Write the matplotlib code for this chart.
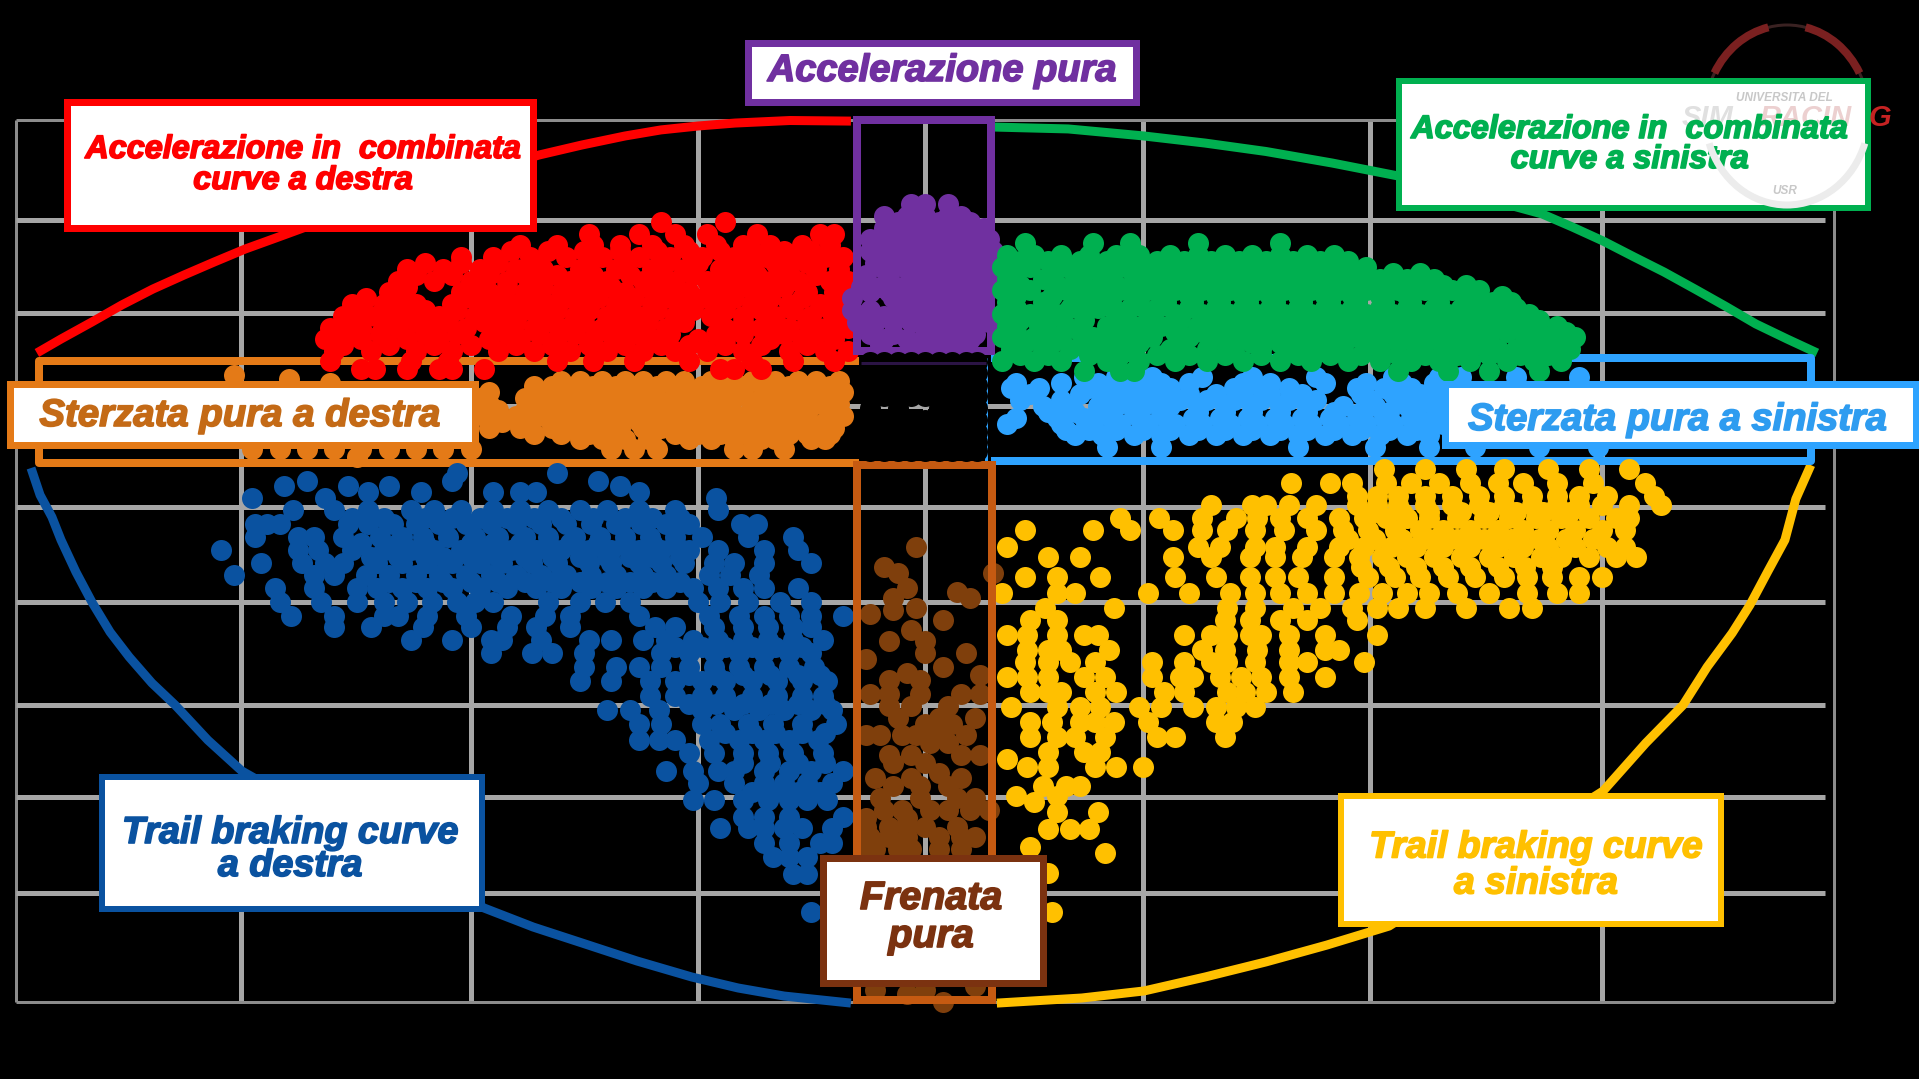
#!/usr/bin/env python3

import matplotlib
matplotlib.use("Agg")
import matplotlib.pyplot as plt
import matplotlib.patheffects as pe
from matplotlib.patches import Rectangle, Arc
from matplotlib.transforms import IdentityTransform

W, H = 1919, 1079

# grid lines (g)
grid_x = [-2.00, -1.505, -1.00, -0.50, 0.0, 0.48, 0.98, 1.49, 2.00]
grid_y = [1.48, 0.97, 0.495, 0.02, -0.495, -0.98, -1.505, -1.975, -2.465, -3.02]

# envelope arcs (x, y in g)
red_arc_x = [-1.954, -1.901, -1.833, -1.767, -1.699, -1.63, -1.564, -1.496, -1.428, -1.362, -1.111, -0.849, -0.755, -0.66, -0.581, -0.499, -0.418, -0.297, -0.163]
red_arc_y = [0.291, 0.362, 0.449, 0.536, 0.617, 0.689, 0.755, 0.821, 0.878, 0.934, 1.122, 1.301, 1.352, 1.398, 1.429, 1.449, 1.464, 1.477, 1.474]
green_arc_x = [0.145, 0.315, 0.482, 0.616, 0.75, 0.896, 1.041, 1.2, 1.358, 1.424, 1.492, 1.56, 1.626, 1.694, 1.76, 1.828, 1.897, 1.963]
green_arc_y = [1.444, 1.434, 1.398, 1.362, 1.319, 1.26, 1.194, 1.10, 1.0, 0.934, 0.862, 0.781, 0.704, 0.617, 0.531, 0.439, 0.362, 0.291]
blue_arc_x = [-1.967, -1.947, -1.921, -1.901, -1.868, -1.833, -1.793, -1.751, -1.701, -1.65, -1.578, -1.503, -0.97, -0.862, -0.755, -0.634, -0.513, -0.411, -0.31, -0.163]
blue_arc_y = [-0.296, -0.434, -0.546, -0.663, -0.827, -0.98, -1.133, -1.26, -1.393, -1.505, -1.684, -1.842, -2.541, -2.638, -2.719, -2.811, -2.893, -2.949, -2.99, -3.026]
yellow_arc_x = [1.949, 1.916, 1.892, 1.855, 1.815, 1.776, 1.721, 1.668, 1.586, 1.492, 1.021, 0.884, 0.75, 0.616, 0.482, 0.345, 0.158]
yellow_arc_y = [-0.281, -0.454, -0.663, -0.821, -0.995, -1.138, -1.311, -1.505, -1.699, -1.944, -2.633, -2.73, -2.816, -2.893, -2.964, -3.0, -3.026]

# points, one (long. g, [lat. g...]) per row
red_rows = [
    (0.96, [-0.58, -0.44]),
    (0.90, [-0.74, -0.63, -0.55, -0.48, -0.37, -0.23, -0.20]),
    (0.84, [-0.89, -0.81, -0.73, -0.67, -0.60, -0.53, -0.46, -0.40, -0.34, -0.27, -0.21]),
    (0.81, [-0.91, -0.83, -0.75, -0.67, -0.59, -0.52, -0.45, -0.38, -0.31, -0.25]),
    (0.78, [-1.02, -0.95, -0.87, -0.79, -0.71, -0.63, -0.56, -0.49, -0.42, -0.35, -0.29, -0.22, -0.18]),
    (0.75, [-1.10, -1.02, -0.94, -0.86, -0.74, -0.66, -0.57, -0.50, -0.41, -0.33, -0.26]),
    (0.72, [-1.14, -1.06, -0.98, -0.90, -0.84, -0.76, -0.68, -0.60, -0.53, -0.45, -0.38, -0.30, -0.24, -0.19]),
    (0.69, [-1.12, -1.04, -0.96, -0.88, -0.81, -0.73, -0.65, -0.58, -0.51, -0.44, -0.37, -0.31, -0.24]),
    (0.66, [-1.16, -1.08, -1.00, -0.92, -0.85, -0.78, -0.70, -0.62, -0.55, -0.48, -0.41, -0.34, -0.28, -0.21, -0.17]),
    (0.63, [-1.14, -0.98, -0.92, -0.84, -0.76, -0.69, -0.61, -0.55, -0.47, -0.39, -0.31]),
    (0.60, [-1.18, -1.02, -0.96, -0.88, -0.80, -0.73, -0.66, -0.58, -0.52, -0.44, -0.36, -0.26, -0.20]),
    (0.57, [-1.23, -1.15, -1.00, -0.93, -0.86, -0.79, -0.72, -0.64, -0.56, -0.49, -0.42, -0.34, -0.27]),
    (0.54, [-1.26, -1.19, -1.12, -1.04, -0.97, -0.90, -0.83, -0.76, -0.68, -0.60, -0.53, -0.46, -0.38, -0.30, -0.23, -0.18]),
    (0.51, [-1.24, -1.17, -1.10, -1.03, -0.95, -0.88, -0.81, -0.74, -0.66, -0.59, -0.51, -0.44, -0.36, -0.29, -0.21]),
    (0.48, [-1.28, -1.21, -1.14, -1.07, -0.99, -0.92, -0.85, -0.77, -0.70, -0.63, -0.55, -0.47, -0.40, -0.33, -0.25, -0.19]),
    (0.45, [-1.27, -1.19, -1.12, -1.05, -0.97, -0.90, -0.82, -0.75, -0.68, -0.61, -0.53, -0.40, -0.33, -0.26, -0.20]),
    (0.42, [-1.31, -1.24, -1.16, -1.09, -1.01, -0.94, -0.86, -0.79, -0.71, -0.65, -0.57, -0.44, -0.36, -0.30, -0.22, -0.17]),
    (0.39, [-1.28, -1.20, -1.10, -1.03, -0.92, -0.85, -0.77, -0.69, -0.63, -0.56, -0.46, -0.40, -0.31, -0.24]),
    (0.36, [-1.32, -1.24, -1.14, -1.07, -0.96, -0.89, -0.81, -0.73, -0.67, -0.60, -0.50, -0.44, -0.34, -0.27, -0.20]),
    (0.33, [-1.28, -1.18, -1.08, -1.00, -0.90, -0.82, -0.74, -0.66, -0.58, -0.52, -0.44, -0.36, -0.26]),
    (0.30, [-1.30, -1.22, -1.12, -1.04, -0.94, -0.86, -0.78, -0.70, -0.62, -0.55, -0.48, -0.40, -0.30, -0.22, -0.17]),
    (0.25, [-1.31, -1.13, -1.05, -0.81, -0.73, -0.64, -0.52, -0.38, -0.29, -0.20]),
    (0.21, [-1.24, -1.21, -1.14, -1.07, -1.04, -0.97, -0.45, -0.42, -0.36]),
]
orange_rows = [
    (0.18, [-1.52]),
    (0.16, [-1.40]),
    (0.14, [-1.31]),
    (0.15, [-0.80, -0.76, -0.71, -0.66, -0.62, -0.57, -0.53, -0.47, -0.42, -0.38, -0.33, -0.28, -0.24, -0.19]),
    (0.12, [-0.86, -0.82, -0.77, -0.73, -0.68, -0.64, -0.59, -0.55, -0.49, -0.44, -0.40, -0.35, -0.30, -0.26, -0.21]),
    (0.09, [-0.96, -0.84, -0.79, -0.74, -0.69, -0.64, -0.60, -0.55, -0.50, -0.45, -0.40, -0.35, -0.31, -0.26, -0.21, -0.18]),
    (0.06, [-0.98, -0.88, -0.83, -0.78, -0.72, -0.66, -0.59, -0.53, -0.48, -0.42, -0.36, -0.29, -0.23]),
    (0.03, [-0.96, -0.86, -0.81, -0.76, -0.71, -0.67, -0.62, -0.57, -0.52, -0.47, -0.43, -0.38, -0.33, -0.28, -0.24, -0.19]),
    (0.0, [-0.94, -0.88, -0.83, -0.77, -0.72, -0.64, -0.58, -0.54, -0.49, -0.44, -0.37, -0.31, -0.26, -0.20]),
    (-0.03, [-0.97, -0.90, -0.84, -0.79, -0.74, -0.69, -0.65, -0.60, -0.55, -0.50, -0.45, -0.40, -0.36, -0.31, -0.26, -0.21, -0.18]),
    (-0.06, [-0.93, -0.87, -0.81, -0.76, -0.70, -0.63, -0.57, -0.52, -0.47, -0.41, -0.34, -0.28, -0.22]),
    (-0.09, [-0.96, -0.89, -0.82, -0.77, -0.72, -0.67, -0.62, -0.58, -0.53, -0.48, -0.43, -0.38, -0.33, -0.29, -0.24, -0.20]),
    (-0.12, [-0.86, -0.80, -0.74, -0.68, -0.60, -0.55, -0.50, -0.45, -0.40, -0.35, -0.30, -0.26, -0.21]),
    (-0.15, [-0.76, -0.71, -0.66, -0.61, -0.52, -0.47, -0.42, -0.36, -0.33, -0.25, -0.22]),
    (-0.20, [-1.48, -1.42, -1.36, -1.30, -1.24, -1.18, -1.12, -1.06, -1.00, -0.69, -0.64, -0.59, -0.42, -0.38, -0.31]),
    (-0.24, [-1.25]),
]
green_rows = [
    (0.85, [0.22, 0.37, 0.45, 0.60, 0.78]),
    (0.79, [0.18, 0.24, 0.30, 0.36, 0.42, 0.47, 0.54, 0.60, 0.66, 0.72, 0.78, 0.84, 0.90]),
    (0.76, [0.21, 0.27, 0.34, 0.40, 0.45, 0.51, 0.57, 0.63, 0.69, 0.75, 0.81, 0.87, 0.93]),
    (0.73, [0.17, 0.23, 0.31, 0.38, 0.44, 0.50, 0.56, 0.62, 0.68, 0.74, 0.80, 0.86, 0.92, 0.97]),
    (0.70, [0.20, 0.28, 0.35, 0.41, 0.48, 0.53, 0.59, 0.65, 0.71, 0.77, 0.83, 0.89, 0.95, 1.03, 1.09]),
    (0.67, [0.18, 0.26, 0.33, 0.39, 0.46, 0.52, 0.58, 0.64, 0.70, 0.76, 0.82, 0.88, 0.94, 1.00, 1.06, 1.12]),
    (0.64, [0.21, 0.29, 0.35, 0.42, 0.49, 0.55, 0.61, 0.67, 0.73, 0.79, 0.85, 0.91, 0.97, 1.02, 1.08, 1.14, 1.19]),
    (0.61, [0.17, 0.23, 0.31, 0.37, 0.43, 0.49, 0.55, 0.61, 0.67, 0.73, 0.79, 0.85, 0.91, 0.97, 1.04, 1.10, 1.16, 1.22]),
    (0.58, [0.20, 0.28, 0.35, 0.40, 0.46, 0.52, 0.58, 0.64, 0.70, 0.76, 0.82, 0.88, 0.94, 1.00, 1.06, 1.13, 1.22, 1.27]),
    (0.55, [0.18, 0.26, 0.33, 0.41, 0.47, 0.53, 0.59, 0.65, 0.71, 0.77, 0.83, 0.89, 0.95, 1.01, 1.07, 1.13, 1.19, 1.25, 1.29]),
    (0.52, [0.20, 0.26, 0.32, 0.38, 0.45, 0.51, 0.58, 0.64, 0.70, 0.76, 0.82, 0.88, 0.94, 1.00, 1.06, 1.12, 1.18, 1.24, 1.30]),
    (0.49, [0.17, 0.23, 0.29, 0.35, 0.42, 0.49, 0.55, 0.61, 0.67, 0.73, 0.79, 0.85, 0.91, 0.97, 1.03, 1.09, 1.15, 1.21, 1.27, 1.33]),
    (0.46, [0.21, 0.27, 0.35, 0.43, 0.49, 0.56, 0.63, 0.69, 0.75, 0.81, 0.87, 0.93, 0.99, 1.05, 1.11, 1.17, 1.23, 1.29, 1.35]),
    (0.43, [0.18, 0.25, 0.31, 0.40, 0.46, 0.52, 0.60, 0.66, 0.72, 0.78, 0.84, 0.90, 0.96, 1.02, 1.08, 1.14, 1.20, 1.26, 1.32, 1.39]),
    (0.40, [0.20, 0.27, 0.34, 0.41, 0.47, 0.55, 0.61, 0.67, 0.73, 0.79, 0.85, 0.91, 0.97, 1.03, 1.09, 1.15, 1.21, 1.28, 1.35, 1.41]),
    (0.37, [0.17, 0.24, 0.30, 0.37, 0.44, 0.50, 0.58, 0.64, 0.70, 0.76, 0.82, 0.88, 0.94, 1.00, 1.06, 1.12, 1.18, 1.24, 1.32, 1.38, 1.43]),
    (0.34, [0.22, 0.28, 0.35, 0.41, 0.47, 0.56, 0.66, 0.72, 0.78, 0.84, 0.90, 0.97, 1.04, 1.10, 1.16, 1.23, 1.33, 1.39]),
    (0.31, [0.19, 0.26, 0.32, 0.38, 0.46, 0.54, 0.62, 0.68, 0.74, 0.80, 0.86, 0.92, 1.00, 1.08, 1.14, 1.20, 1.26, 1.30, 1.36, 1.42]),
    (0.28, [0.21, 0.27, 0.36, 0.43, 0.51, 0.58, 0.66, 0.74, 0.82, 0.89, 0.96, 1.04, 1.10, 1.17, 1.24, 1.31, 1.37]),
    (0.25, [0.17, 0.24, 0.30, 0.40, 0.47, 0.55, 0.62, 0.70, 0.78, 0.85, 0.93, 1.00, 1.07, 1.13, 1.20, 1.28, 1.34, 1.40]),
    (0.20, [0.35, 0.43, 0.46, 1.04, 1.15, 1.24, 1.35]),
]
sky_rows = [
    (0.17, [0.35, 0.42, 0.50, 0.61, 0.72, 0.86, 1.03, 1.13, 1.18, 1.30, 1.44]),
    (0.14, [0.20, 0.30, 0.38, 0.46, 0.52, 0.58, 0.70, 0.76, 0.88, 0.97, 1.05, 1.12]),
    (0.11, [0.19, 0.25, 0.36, 0.42, 0.48, 0.54, 0.68, 0.74, 0.80, 0.95, 1.01, 1.07, 1.13]),
    (0.08, [0.23, 0.34, 0.40, 0.46, 0.52, 0.58, 0.64, 0.70, 0.76, 0.83, 0.96, 1.03, 1.09, 1.15]),
    (0.05, [0.21, 0.30, 0.39, 0.44, 0.50, 0.56, 0.62, 0.68, 0.74, 0.80, 0.86, 0.98, 1.04, 1.10, 1.17]),
    (0.02, [0.26, 0.32, 0.38, 0.42, 0.48, 0.54, 0.60, 0.66, 0.72, 0.78, 0.84, 0.92, 0.99, 1.06, 1.12]),
    (-0.01, [0.27, 0.33, 0.40, 0.46, 0.52, 0.60, 0.66, 0.72, 0.78, 0.84, 0.90, 0.96, 1.02, 1.08, 1.13]),
    (-0.04, [0.20, 0.29, 0.35, 0.41, 0.47, 0.53, 0.59, 0.65, 0.71, 0.77, 0.83, 0.89, 0.95, 1.01, 1.07, 1.12]),
    (-0.07, [0.18, 0.30, 0.37, 0.43, 0.49, 0.55, 0.61, 0.67, 0.73, 0.79, 0.85, 0.91, 0.97, 1.03, 1.09, 1.14]),
    (-0.10, [0.31, 0.36, 0.42, 0.48, 0.54, 0.60, 0.66, 0.72, 0.78, 0.84, 0.90, 0.96, 1.02, 1.08]),
    (-0.13, [0.33, 0.39, 0.46, 0.52, 0.58, 0.64, 0.70, 0.76, 0.82, 0.88, 0.94, 1.00, 1.06, 1.11]),
    (-0.19, [0.40, 0.52, 0.82, 0.99, 1.11, 1.21, 1.35, 1.48]),
]
blue_rows = [
    (-0.32, [-1.03, -0.81]),
    (-0.36, [-1.36, -1.04, -0.72]),
    (-0.39, [-1.41, -1.27, -1.18, -0.67]),
    (-0.42, [-1.225, -1.11, -0.95, -0.89, -0.855, -0.63]),
    (-0.45, [-1.48, -1.32, -0.46]),
    (-0.51, [-1.39, -1.30, -1.225, -1.13, -1.08, -1.02, -0.95, -0.89, -0.83, -0.76, -0.70, -0.63, -0.55, -0.455]),
    (-0.55, [-1.26, -1.19, -1.10, -1.04, -0.98, -0.92, -0.86, -0.80, -0.73, -0.66, -0.60, -0.54]),
    (-0.58, [-1.475, -1.447, -1.42, -1.27, -1.225, -1.17, -1.12, -1.07, -1.01, -0.955, -0.90, -0.845, -0.79, -0.735, -0.68, -0.625, -0.57, -0.52, -0.405, -0.37]),
    (-0.65, [-1.475, -1.38, -1.345, -1.28, -1.20, -1.15, -1.105, -1.05, -0.99, -0.94, -0.88, -0.83, -0.77, -0.715, -0.66, -0.605, -0.55, -0.49, -0.39, -0.29]),
    (-0.68, [-1.24, -1.16, -1.10, -1.00, -0.95, -0.89, -0.83, -0.78, -0.72, -0.66, -0.60, -0.55]),
    (-0.715, [-1.55, -1.38, -1.335, -1.26, -1.19, -1.13, -1.08, -1.02, -0.965, -0.91, -0.855, -0.80, -0.74, -0.69, -0.63, -0.58, -0.52, -0.455, -0.355, -0.28]),
    (-0.75, [-1.22, -1.16, -1.10, -1.06, -1.00, -0.94, -0.88, -0.82, -0.76, -0.70, -0.65, -0.60, -0.54]),
    (-0.78, [-1.46, -1.37, -1.32, -1.28, -1.205, -1.15, -1.095, -1.04, -0.98, -0.93, -0.865, -0.81, -0.74, -0.69, -0.63, -0.58, -0.53, -0.465, -0.42, -0.355, -0.25]),
    (-0.84, [-1.52, -1.345, -1.30, -1.23, -1.18, -1.12, -1.07, -1.01, -0.955, -0.90, -0.845, -0.79, -0.735, -0.68, -0.62, -0.57, -0.475, -0.43, -0.365]),
    (-0.88, [-1.18, -1.12, -1.06, -1.00, -0.94, -0.88, -0.82, -0.76, -0.70, -0.65, -0.60, -0.54]),
    (-0.91, [-1.43, -1.345, -1.25, -1.205, -1.15, -1.095, -1.04, -0.98, -0.92, -0.855, -0.80, -0.735, -0.68, -0.62, -0.57, -0.51, -0.455, -0.40, -0.355, -0.28]),
    (-0.98, [-1.42, -1.33, -1.25, -1.19, -1.14, -1.085, -1.03, -0.99, -0.95, -0.83, -0.76, -0.705, -0.65, -0.50, -0.45, -0.39, -0.32, -0.25]),
    (-1.05, [-1.396, -1.30, -1.19, -1.16, -1.095, -1.01, -0.91, -0.835, -0.78, -0.63, -0.475, -0.41, -0.355, -0.30, -0.25, -0.18]),
    (-1.105, [-1.30, -1.22, -1.105, -1.00, -0.92, -0.855, -0.78, -0.595, -0.55, -0.465, -0.40, -0.345, -0.29, -0.25]),
    (-1.175, [-1.13, -1.04, -0.955, -0.93, -0.845, -0.74, -0.69, -0.62, -0.57, -0.51, -0.455, -0.40, -0.345, -0.29, -0.225]),
    (-1.21, [-0.55, -0.49, -0.44, -0.38, -0.33, -0.27]),
    (-1.24, [-0.955, -0.865, -0.82, -0.75, -0.58, -0.52, -0.465, -0.41, -0.355, -0.30, -0.25]),
    (-1.31, [-0.75, -0.68, -0.63, -0.58, -0.52, -0.465, -0.41, -0.355, -0.30, -0.245]),
    (-1.35, [-0.52, -0.46, -0.40, -0.34, -0.28, -0.23]),
    (-1.385, [-0.76, -0.69, -0.605, -0.55, -0.49, -0.44, -0.38, -0.325, -0.27, -0.215]),
    (-1.46, [-0.605, -0.55, -0.49, -0.44, -0.38, -0.325, -0.27, -0.225]),
    (-1.50, [-0.52, -0.46, -0.40, -0.34, -0.28, -0.22]),
    (-1.53, [-0.70, -0.65, -0.585, -0.49, -0.42, -0.365, -0.31, -0.25, -0.205]),
    (-1.60, [-0.63, -0.58, -0.49, -0.45, -0.39, -0.335, -0.27, -0.195]),
    (-1.65, [-0.44, -0.38, -0.33, -0.27, -0.22]),
    (-1.685, [-0.63, -0.585, -0.55, -0.475, -0.41, -0.355, -0.30, -0.235]),
    (-1.75, [-0.52, -0.465, -0.40, -0.345, -0.29, -0.225]),
    (-1.80, [-0.40, -0.34, -0.28, -0.22]),
    (-1.84, [-0.57, -0.51, -0.455, -0.42, -0.355, -0.30, -0.25, -0.18]),
    (-1.905, [-0.50, -0.42, -0.355, -0.31, -0.26, -0.205]),
    (-1.95, [-0.38, -0.33, -0.28, -0.23]),
    (-1.99, [-0.51, -0.465, -0.40, -0.345, -0.30, -0.26, -0.215]),
    (-2.075, [-0.40, -0.355, -0.30, -0.18]),
    (-2.135, [-0.45, -0.39, -0.355, -0.31, -0.27, -0.205]),
    (-2.21, [-0.355, -0.30, -0.23, -0.205]),
    (-2.28, [-0.335, -0.30, -0.26]),
    (-2.365, [-0.29, -0.26]),
    (-2.56, [-0.25]),
]
yellow_rows = [
    (-0.30, [1.01, 1.10, 1.19, 1.275, 1.37, 1.46, 1.55]),
    (-0.374, [0.805, 0.89, 0.94, 1.015, 1.07, 1.13, 1.20, 1.26, 1.315, 1.39, 1.47, 1.585]),
    (-0.44, [0.95, 0.995, 1.04, 1.10, 1.16, 1.22, 1.275, 1.335, 1.39, 1.44, 1.50, 1.605]),
    (-0.485, [0.63, 0.72, 0.75, 0.80, 0.86, 0.95, 0.995, 1.04, 1.10, 1.16, 1.22, 1.275, 1.335, 1.39, 1.44, 1.49, 1.55, 1.62]),
    (-0.52, [0.99, 1.05, 1.11, 1.18, 1.24, 1.30, 1.36, 1.42]),
    (-0.553, [0.43, 0.515, 0.61, 0.685, 0.73, 0.78, 0.84, 0.91, 0.965, 1.015, 1.06, 1.11, 1.17, 1.23, 1.285, 1.345, 1.40, 1.46, 1.52, 1.55]),
    (-0.612, [0.22, 0.37, 0.45, 0.545, 0.61, 0.665, 0.725, 0.79, 0.86, 0.92, 0.975, 1.035, 1.09, 1.14, 1.20, 1.26, 1.315, 1.37, 1.43, 1.49, 1.54]),
    (-0.66, [0.93, 0.99, 1.05, 1.11, 1.17, 1.23, 1.29, 1.35, 1.41, 1.47]),
    (-0.70, [0.18, 0.60, 0.65, 0.725, 0.77, 0.84, 0.91, 0.965, 1.025, 1.08, 1.14, 1.20, 1.26, 1.315, 1.37, 1.43, 1.50, 1.54]),
    (-0.75, [0.34, 0.27, 0.545, 0.63, 0.715, 0.77, 0.83, 0.90, 0.955, 1.005, 1.06, 1.12, 1.18, 1.24, 1.295, 1.355, 1.40, 1.46, 1.52, 1.565]),
    (-0.80, [0.96, 1.02, 1.08, 1.14, 1.20, 1.26, 1.32, 1.38]),
    (-0.85, [0.22, 0.29, 0.385, 0.55, 0.64, 0.715, 0.77, 0.82, 0.90, 0.975, 1.035, 1.09, 1.15, 1.21, 1.275, 1.325, 1.38, 1.44, 1.49]),
    (-0.935, [0.17, 0.29, 0.33, 0.49, 0.58, 0.67, 0.725, 0.78, 0.84, 0.90, 0.955, 1.005, 1.06, 1.11, 1.17, 1.24, 1.325, 1.39, 1.44]),
    (-1.01, [0.265, 0.415, 0.665, 0.725, 0.81, 0.87, 0.94, 0.995, 1.04, 1.10, 1.19, 1.285, 1.335]),
    (-1.07, [0.23, 0.29, 0.66, 0.715, 0.78, 0.84, 0.95]),
    (-1.15, [0.18, 0.225, 0.29, 0.35, 0.38, 0.57, 0.63, 0.665, 0.715, 0.74, 0.80, 0.88, 0.995]),
    (-1.225, [0.225, 0.27, 0.30, 0.405, 0.61, 0.66, 0.73, 0.80, 0.88, 0.91]),
    (-1.285, [0.22, 0.27, 0.32, 0.375, 0.50, 0.57, 0.63, 0.665, 0.725, 0.80, 0.84, 0.965]),
    (-1.36, [0.18, 0.225, 0.27, 0.35, 0.395, 0.50, 0.56, 0.59, 0.65, 0.695, 0.74, 0.80, 0.88]),
    (-1.44, [0.23, 0.27, 0.30, 0.375, 0.42, 0.525, 0.57, 0.665, 0.705, 0.75, 0.81]),
    (-1.515, [0.19, 0.29, 0.34, 0.385, 0.47, 0.52, 0.59, 0.64, 0.685, 0.725]),
    (-1.59, [0.23, 0.28, 0.34, 0.375, 0.415, 0.49, 0.64, 0.675]),
    (-1.67, [0.23, 0.29, 0.33, 0.395, 0.51, 0.55, 0.66]),
    (-1.745, [0.27, 0.35, 0.385]),
    (-1.78, [0.18]),
    (-1.82, [0.225, 0.27, 0.375, 0.42, 0.48]),
    (-1.92, [0.26, 0.31, 0.34]),
    (-1.97, [0.20, 0.29]),
    (-2.00, [0.24]),
    (-2.05, [0.29, 0.38]),
    (-2.14, [0.27, 0.32, 0.36]),
    (-2.23, [0.23]),
    (-2.26, [0.395]),
    (-2.36, [0.27]),
    (-2.56, [0.28]),
]
purple_rows = [
    (1.05, [-0.03, 0.0, 0.05]),
    (0.99, [-0.09, -0.04, 0.0, 0.05, 0.08]),
    (0.96, [-0.06, -0.02, 0.03, 0.10]),
    (0.93, [-0.09, -0.05, -0.01, 0.03, 0.07, 0.13]),
    (0.87, [-0.12, -0.07, -0.03, 0.01, 0.05, 0.10, 0.14]),
    (0.84, [-0.10, -0.05, -0.01, 0.03, 0.07, 0.12]),
    (0.81, [-0.12, -0.08, -0.04, 0.0, 0.04, 0.08, 0.12, 0.15]),
    (0.75, [-0.11, -0.06, -0.02, 0.02, 0.06, 0.10, 0.14]),
    (0.72, [-0.09, -0.04, 0.0, 0.04, 0.08, 0.12]),
    (0.69, [-0.13, -0.08, -0.03, 0.01, 0.05, 0.09, 0.13, 0.16]),
    (0.63, [-0.14, -0.10, -0.05, -0.01, 0.03, 0.07, 0.11, 0.15]),
    (0.60, [-0.12, -0.08, 0.0, 0.04, 0.08, 0.12]),
    (0.57, [-0.16, -0.07, -0.03, 0.01, 0.05, 0.09, 0.13]),
    (0.51, [-0.16, -0.12, -0.06, -0.02, 0.02, 0.06, 0.10, 0.13]),
    (0.48, [-0.13, -0.09, -0.04, 0.0, 0.04, 0.08, 0.12]),
    (0.45, [-0.15, -0.11, -0.07, -0.03, 0.01, 0.05, 0.09, 0.14]),
    (0.39, [-0.12, -0.07, 0.0, 0.04, 0.08, 0.11]),
    (0.36, [-0.09, -0.04, 0.02, 0.06, 0.10]),
    (0.33, [-0.10, -0.03, 0.01, 0.05, 0.08]),
]
brown_rows = [
    (-0.70, [-0.02]),
    (-0.80, [-0.09]),
    (-0.83, [-0.06, 0.15]),
    (-0.91, [-0.04]),
    (-0.93, [0.07]),
    (-0.96, [0.10, -0.07]),
    (-1.01, [-0.02]),
    (-1.02, [-0.07]),
    (-1.04, [-0.12]),
    (-1.07, [0.04]),
    (-1.12, [-0.03]),
    (-1.18, [-0.08, 0.0]),
    (-1.24, [0.0, 0.09]),
    (-1.27, [-0.13]),
    (-1.31, [0.04]),
    (-1.34, [-0.04]),
    (-1.35, [0.12]),
    (-1.38, [-0.01, -0.08]),
    (-1.45, [-0.12, -0.01, -0.08, 0.08, 0.12]),
    (-1.51, [0.05, -0.08, -0.03]),
    (-1.57, [0.03, 0.11, -0.06]),
    (-1.60, [0.0, 0.06]),
    (-1.66, [-0.13, -0.10, -0.05, -0.02, 0.03, 0.09]),
    (-1.70, [0.05, 0.01]),
    (-1.76, [-0.08, -0.03, 0.08, 0.12]),
    (-1.80, [-0.07, 0.0]),
    (-1.85, [0.03]),
    (-1.88, [-0.11, -0.03, 0.08]),
    (-1.92, [-0.07, -0.01, 0.05]),
    (-1.98, [-0.10, -0.01, 0.07, 0.11]),
    (-2.04, [-0.09, -0.05, 0.01, 0.05, 0.10, 0.14]),
    (-2.08, [-0.13, -0.04]),
    (-2.13, [0.07, -0.13, -0.08, -0.04, 0.0]),
    (-2.18, [-0.12, -0.08, -0.04, 0.03, 0.08, 0.11]),
    (-2.24, [-0.13, -0.11, -0.06, -0.03, 0.03, 0.08]),
    (-2.94, [0.11]),
    (-2.96, [-0.11, 0.0]),
    (-2.98, [-0.04]),
    (-3.02, [0.04]),
]
black_rows = [
    (0.245, [-0.12, -0.09, -0.06, -0.03, 0.0, 0.03, 0.06, 0.09, 0.115]),
    (0.19, [-0.12, -0.09, -0.06, -0.03, 0.0, 0.03, 0.06, 0.09, 0.115]),
    (0.13, [-0.12, -0.09, -0.06, -0.03, 0.0, 0.03, 0.06, 0.09, 0.115]),
    (0.07, [-0.12, -0.09, -0.06, -0.03, 0.0, 0.03, 0.06, 0.09, 0.115]),
    (0.01, [-0.12, -0.06, 0.03, 0.06, 0.09, 0.115]),
    (-0.05, [-0.12, -0.09, -0.06, -0.03, 0.0, 0.03, 0.06, 0.09, 0.115]),
    (-0.11, [-0.12, -0.09, -0.06, -0.03, 0.0, 0.03, 0.06, 0.09, 0.115]),
    (-0.165, [-0.12, -0.09, -0.06, -0.03, 0.03, 0.06, 0.09, 0.115]),
    (-0.21, [-0.12, -0.09, -0.06, -0.03, 0.0, 0.03, 0.06, 0.09, 0.115]),
]

# region outlines (g)
orange_box = (-1.95, -0.155, 0.25, -0.27)
sky_box = (0.134, 1.949, 0.265, -0.26)
purple_box = (-0.15, 0.145, 1.48, 0.30)
brown_box = (-0.15, 0.147, -0.28, -3.01)

RED = "#ff0000"
GREEN = "#00b050"
PURPLE = "#7030a0"
ORANGE = "#e47a17"
SKY = "#2ea3ff"
BLUE = "#0a52a0"
YELLOW = "#ffc000"
BROWN = "#7f3f0c"
BROWN_LINE = "#c55a11"
GREY = "#a6a6a6"
DOT = 21  # px


def expand(rows):
    xs, ys = [], []
    for y, row in rows:
        xs += row
        ys += [y] * len(row)
    return xs, ys


def px(v):
    return v * 0.72


fig = plt.figure(figsize=(W / 100, H / 100), dpi=100, facecolor="black")
ax = fig.add_axes([0, 0, 1, 1], facecolor="black")
ax.set_xlim(-925 / 454.5, (W - 925) / 454.5)
ax.set_ylim((410 - H) / 196, 410 / 196)
ax.axis("off")

# grid
for i, x in enumerate(grid_x):
    thin = i in (0, len(grid_x) - 1)
    ax.vlines(x, grid_y[-1], grid_y[0], color="#8c8c8c" if thin else GREY, lw=px(3 if thin else 5), zorder=1)
for i, y in enumerate(grid_y):
    thin = i in (0, len(grid_y) - 1)
    ax.hlines(y, grid_x[0], grid_x[-1] - (0 if thin else 0.02), color="#8c8c8c" if thin else GREY, lw=px(3 if thin else 5), zorder=1)

# envelope
for xs, ys, col in [(red_arc_x, red_arc_y, RED), (green_arc_x, green_arc_y, GREEN),
                    (blue_arc_x, blue_arc_y, BLUE), (yellow_arc_x, yellow_arc_y, YELLOW)]:
    ax.plot(xs, ys, color=col, lw=px(9), zorder=2, solid_capstyle="butt", solid_joinstyle="round")


def points(rows, col, z):
    xs, ys = expand(rows)
    ax.scatter(xs, ys, s=px(DOT) ** 2, color=col, linewidths=0, zorder=z)


def box(b, col, z, w=8):
    x0, x1, y0, y1 = b
    ax.plot([x0, x1, x1, x0, x0], [y0, y0, y1, y1, y0], color=col, lw=px(w), zorder=z, solid_joinstyle="miter")


points(orange_rows, ORANGE, 3)
ax.plot([orange_box[1], orange_box[0], orange_box[0], orange_box[1]],
        [orange_box[2], orange_box[2], orange_box[3], orange_box[3]], color=ORANGE, lw=px(8), zorder=4)
points(sky_rows, SKY, 3)
ax.plot([sky_box[0] + 0.02, sky_box[1], sky_box[1], sky_box[0] + 0.02],
        [sky_box[2], sky_box[2], sky_box[3], sky_box[3]], color=SKY, lw=px(8), zorder=4)
ax.vlines(sky_box[0], sky_box[3], sky_box[2], color=SKY, lw=px(3), zorder=4)
points(blue_rows, BLUE, 5)
points(yellow_rows, YELLOW, 5)
points(brown_rows, BROWN, 5)
box(brown_box, BROWN_LINE, 6)
points(red_rows, RED, 7)
box(purple_box, PURPLE, 7)
points(purple_rows, PURPLE, 8)
points(black_rows, "black", 9)
ax.hlines(0.24, purple_box[0] + 0.01, purple_box[1] - 0.01, color="#2b1445", lw=px(3), zorder=10)
points(green_rows, GREEN, 10)


def fx(x):
    return x / W


def fy(y):
    return 1 - y / H


def label(lines, cx, ys, width, col, rect, edge, bw):
    x0, y0, x1, y1 = rect
    hw = bw / 2
    fig.add_artist(Rectangle((fx(x0 + hw), fy(y1 - hw)), (x1 - x0 - bw) / W, (y1 - y0 - bw) / H,
                             transform=fig.transFigure, facecolor="white", edgecolor=edge,
                             linewidth=px(bw), zorder=20))
    texts = [fig.text(fx(cx), fy(y), s, color=col, ha="center", va="center", fontsize=20,
                      family="Liberation Sans", weight="bold", style="italic", zorder=21,
                      path_effects=[pe.withStroke(linewidth=1.2, foreground=col)])
             for s, y in zip(lines, ys)]
    fig.canvas.draw()
    w = max(t.get_window_extent().width for t in texts)
    for t in texts:
        t.set_fontsize(20 * width / w)


label(["Accelerazione in  combinata", "curve a destra"], 303, [150, 181], 435, RED, (63, 98, 536, 231), RED, 7)
label(["Accelerazione pura"], 942, [71], 348, PURPLE, (744, 39, 1139, 105), PURPLE, 7)
label(["Accelerazione in  combinata", "curve a sinistra"], 1630, [130, 160], 436, GREEN, (1396, 78, 1871, 211), GREEN, 6)
label(["Sterzata pura a destra"], 240, [416], 400, "#c46a16", (6, 380, 478, 448), ORANGE, 7)
label(["Sterzata pura a sinistra"], 1677, [420], 418, "#2e9cf0", (1441, 380, 1919, 448), SKY, 7)
label(["Trail braking curve", "a destra"], 290, [833, 866], 336, BLUE, (99, 774, 485, 912), BLUE, 6)
label(["Trail braking curve", "a sinistra"], 1536, [848, 884], 333, YELLOW, (1338, 793, 1724, 927), YELLOW, 6)
label(["Frenata", "pura"], 931, [899, 937], 142, "#7b3210", (819, 854, 1046, 986), "#7b3210", 7)

# watermark logo
ident = IdentityTransform()
fig.add_artist(Arc((1787, H - 115), 164, 180, theta1=25, theta2=155, transform=ident,
                   color="#3a2222", lw=px(3), zorder=19))
fig.add_artist(Arc((1787, H - 115), 164, 180, theta1=102, theta2=150, transform=ident,
                   color="#7a2020", lw=px(8), zorder=19))
fig.add_artist(Arc((1787, H - 115), 164, 180, theta1=30, theta2=78, transform=ident,
                   color="#7a2020", lw=px(8), zorder=19))
fig.add_artist(Arc((1787, H - 115), 164, 180, theta1=200, theta2=340, transform=ident,
                   color="#ececec", lw=px(7), zorder=22))
fig.text(fx(1784), fy(98), "UNIVERSITA DEL", color="#c8c8c8", fontsize=8.5, ha="center", va="center",
         family="Liberation Sans", weight="bold", style="italic", zorder=22)
fig.text(fx(1708), fy(118), "SIM", color="#e0e0e0", fontsize=21, ha="center", va="center",
         family="Liberation Sans", weight="bold", style="italic", zorder=20.5)
fig.text(fx(1806), fy(118), "RACIN", color="#ecd0d0", fontsize=21, ha="center", va="center",
         family="Liberation Sans", weight="bold", style="italic", zorder=20.5)
fig.text(fx(1880), fy(118), "G", color="#c62222", fontsize=21, ha="center", va="center",
         family="Liberation Sans", weight="bold", style="italic", zorder=22)
fig.text(fx(1785), fy(191), "USR", color="#c8c8c8", fontsize=8.5, ha="center", va="center",
         family="Liberation Sans", weight="bold", style="italic", zorder=22)

fig.savefig("out.png", dpi=100, facecolor="black")
